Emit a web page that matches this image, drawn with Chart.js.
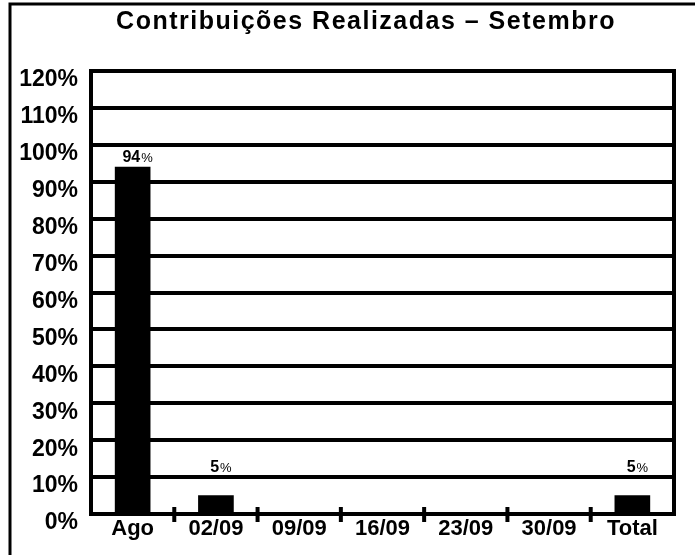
<!DOCTYPE html>
<html>
<head>
<meta charset="utf-8">
<script src="https://cdn.jsdelivr.net/npm/chart.js@4/dist/chart.umd.min.js"></script>
<style>
  html, body { margin: 0; padding: 0; background: #fff; }
  #wrap { width: 695px; height: 555px; }
</style>
</head>
<body>
<div id="wrap"><canvas id="c" width="695" height="555"></canvas></div>
<script>
// ---- data ----
const categories = ['Ago', '02/09', '09/09', '16/09', '23/09', '30/09', 'Total'];
const values = [94, 5, null, null, null, null, 5];
const yMin = 0;
const yMax = 120;
const yStep = 10;
const titleText = 'Contribuições Realizadas – Setembro';

const FONT = '"Liberation Sans", Arial, Helvetica, sans-serif';

const titlePlugin = {
  id: 'slideTitle',
  afterDraw(chart) {
    const ctx = chart.ctx;
    ctx.save();
    ctx.fillStyle = '#000';
    ctx.font = 'bold 25px ' + FONT;
    if ('letterSpacing' in ctx) ctx.letterSpacing = '1.5px';
    ctx.textAlign = 'center';
    ctx.textBaseline = 'alphabetic';
    ctx.fillText(titleText, 366, 29);
    ctx.restore();
  }
};

const framePlugin = {
  id: 'frame',
  afterDraw(chart) {
    const ctx = chart.ctx;
    const a = chart.chartArea;
    ctx.save();
    ctx.strokeStyle = '#000';
    // outer slide frame (top and left)
    ctx.lineWidth = 3;
    ctx.beginPath();
    ctx.moveTo(10, chart.height);
    ctx.lineTo(10, 4);
    ctx.lineTo(chart.width, 4);
    ctx.stroke();
    // right edge of the plot area
    ctx.lineWidth = 4;
    ctx.beginPath();
    ctx.moveTo(a.right, a.top - 2);
    ctx.lineTo(a.right, a.bottom + 2);
    ctx.stroke();
    // tick marks crossing the x axis, between categories
    const xs = chart.scales.x;
    ctx.lineWidth = 4;
    for (let i = 0; i < categories.length - 1; i++) {
      const px = (xs.getPixelForValue(i) + xs.getPixelForValue(i + 1)) / 2;
      ctx.beginPath();
      ctx.moveTo(px, a.bottom - 7);
      ctx.lineTo(px, a.bottom + 8);
      ctx.stroke();
    }
    ctx.restore();
  }
};

const valueLabels = {
  id: 'valueLabels',
  afterDatasetsDraw(chart) {
    const ctx = chart.ctx;
    const meta = chart.getDatasetMeta(0);
    const ys = chart.scales.y;
    const gridPx = ys.ticks.map(t => ys.getPixelForValue(t.value));
    const capH = 12;
    ctx.save();
    ctx.fillStyle = '#000';
    ctx.textBaseline = 'alphabetic';
    ctx.textAlign = 'left';
    meta.data.forEach((bar, i) => {
      const v = values[i];
      if (v === null || v === undefined) return;
      const num = String(v);
      const bigFont = 'bold 16px ' + FONT;
      const smallFont = '13px ' + FONT;
      ctx.font = bigFont;
      const w1 = ctx.measureText(num).width;
      ctx.font = smallFont;
      const w2 = ctx.measureText('%').width;
      const total = w1 + 1 + w2;
      const x0 = bar.x + 5 - total / 2;
      let y = bar.y - 5;
      // keep the label clear of the thick grid lines
      for (const g of gridPx) {
        if (g < y + 1 && g > y - capH - 4) { y = g - 5; }
      }
      ctx.font = bigFont;
      ctx.fillText(num, x0, y);
      ctx.font = smallFont;
      ctx.fillText('%', x0 + w1 + 1, y);
    });
    ctx.restore();
  }
};

new Chart(document.getElementById('c'), {
  type: 'bar',
  data: {
    labels: categories,
    datasets: [{
      data: values,
      backgroundColor: '#000',
      borderWidth: 0,
      barThickness: 35
    }]
  },
  options: {
    responsive: false,
    animation: false,
    layout: { padding: { left: 0, right: 21, top: 71, bottom: 0 } },
    plugins: {
      legend: { display: false },
      tooltip: { enabled: false },
      title: { display: false }
    },
    scales: {
      x: {
        grid: { display: false, drawTicks: false },
        border: { display: true, width: 4, color: '#000' },
        ticks: {
          color: '#000',
          font: { family: FONT, size: 22, weight: 'bold' },
          padding: 2,
          maxRotation: 0,
          autoSkip: false
        },
        afterFit(scale) { scale.height = 41; }
      },
      y: {
        min: yMin,
        max: yMax,
        grid: { color: '#000', lineWidth: 4, drawTicks: false },
        border: { display: true, width: 4, color: '#000' },
        ticks: {
          stepSize: yStep,
          color: '#000',
          font: { family: FONT, size: 23, weight: 'bold' },
          padding: 13,
          labelOffset: 9,
          callback: (v) => v + '%'
        },
        afterFit(scale) { scale.width = 91; }
      }
    }
  },
  plugins: [titlePlugin, framePlugin, valueLabels]
});
</script>
</body>
</html>
